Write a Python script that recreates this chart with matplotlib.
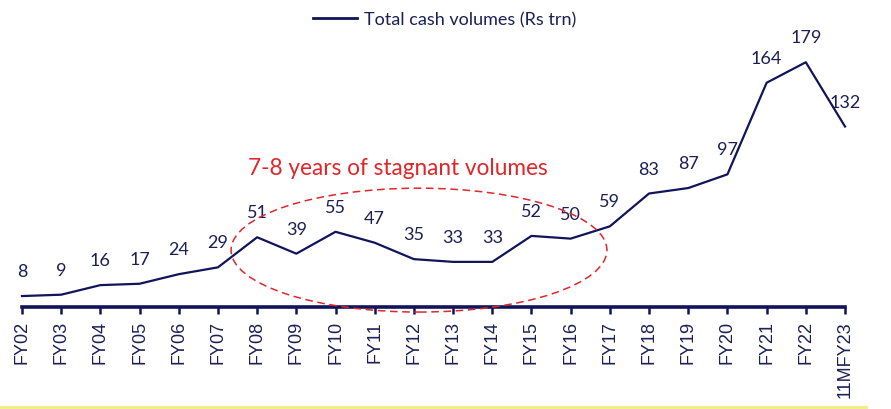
import matplotlib
matplotlib.use("Agg")
import matplotlib.pyplot as plt
from matplotlib.patches import Ellipse
from matplotlib.lines import Line2D

years = ["FY02", "FY03", "FY04", "FY05", "FY06", "FY07", "FY08", "FY09",
         "FY10", "FY11", "FY12", "FY13", "FY14", "FY15", "FY16", "FY17",
         "FY18", "FY19", "FY20", "FY21", "FY22", "11MFY23"]
cash_volumes = [8, 9, 16, 17, 24, 29, 51, 39, 55, 47, 35, 33, 33, 52, 50,
                59, 83, 87, 97, 164, 179, 132]

navy = "#11145a"
label_color = "#1b1f55"
red = "#e0262b"

fig = plt.figure(figsize=(8.91, 4.10), dpi=100)
ax = fig.add_axes([22 / 891, 102 / 410, 823 / 891, 268 / 410])

x = list(range(len(years)))
ax.plot(x, cash_volumes, color=navy, linewidth=1.6, clip_on=False, zorder=3)

# value labels above each point
for i, v in enumerate(cash_volumes):
    ax.annotate(str(v), (i, v), xytext=(0, 25), textcoords="offset pixels",
                ha="center", va="center", fontsize=13, family="Lato",
                color=label_color)

ax.set_xlim(0, len(years) - 1)
ax.set_ylim(0, 196)
ax.set_xticks(x)
ax.set_xticklabels(years, rotation=90, family="Liberation Sans",
                   fontsize=13, color=label_color)
ax.set_yticks([])

for side in ["left", "right", "top"]:
    ax.spines[side].set_visible(False)
ax.spines["bottom"].set_color(navy)
ax.spines["bottom"].set_linewidth(2.6)
ax.tick_params(axis="x", length=5, width=1.8, color=navy, pad=4.3)

# stagnant period highlight
ell = Ellipse((10.13, 41.6), width=9.59, height=90.6, fill=False,
              edgecolor=red, linestyle=(0, (5, 3)), linewidth=1.1,
              clip_on=False, zorder=4)
ax.add_patch(ell)
ax.text(9.58, 102.3, "7-8 years of stagnant volumes", ha="center",
        va="center", fontsize=16.3, family="Lato", color=red)

legend_handle = Line2D([0], [0], color=navy, linewidth=2)
fig.legend([legend_handle], ["Total cash volumes (Rs trn)"],
           loc="center", bbox_to_anchor=(0.499, 0.951), frameon=False,
           prop={"family": "Lato", "size": 13}, handlelength=2.45,
           handletextpad=0.35, labelcolor=label_color)

# thin yellow rule along the bottom edge
fig.add_artist(Line2D([0, 866 / 891], [2 / 410, 2 / 410],
                      color="#f3ee7a", linewidth=2,
                      transform=fig.transFigure))

fig.savefig("out.png", dpi=100)
